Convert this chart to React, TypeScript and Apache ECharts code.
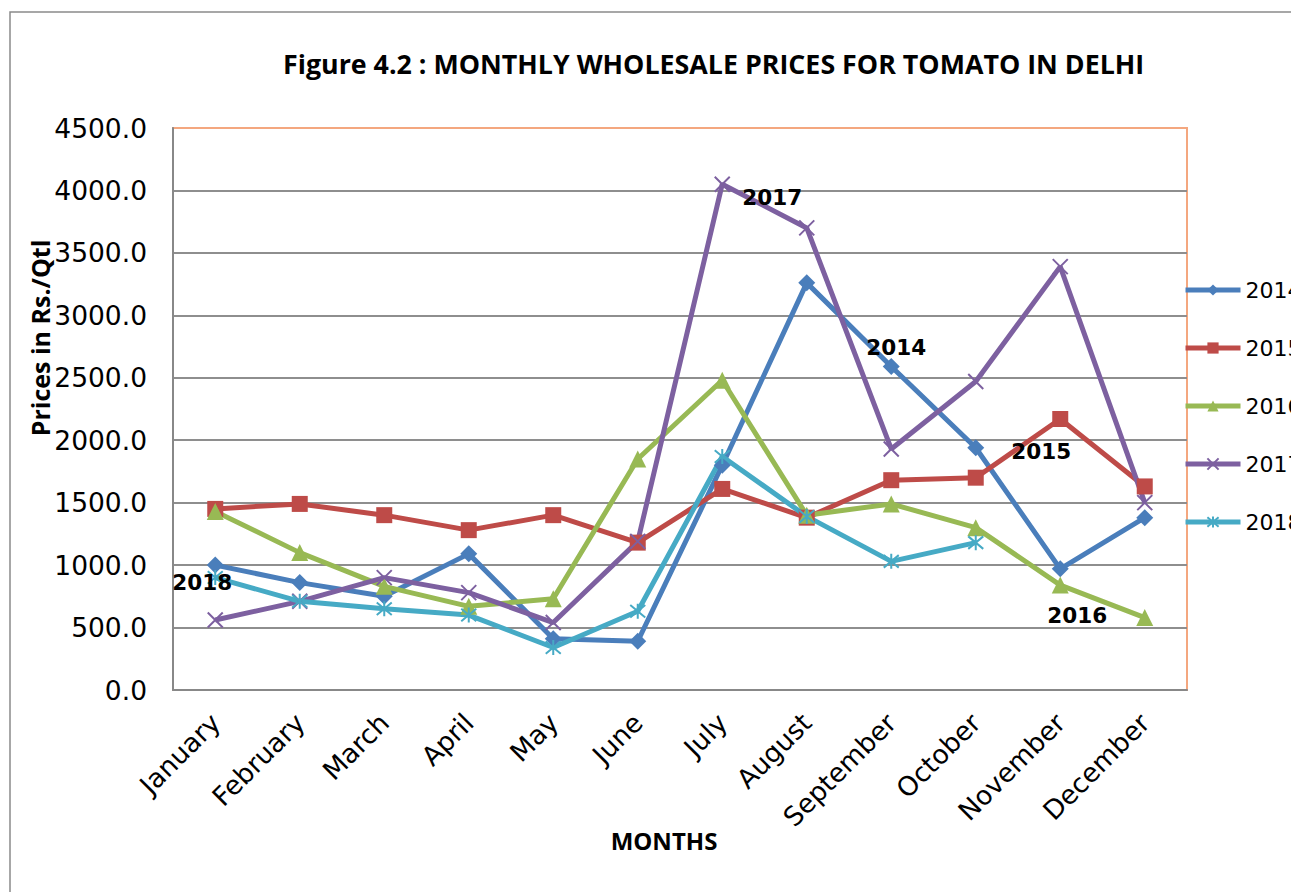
import React, { useEffect, useRef } from "react";
import * as echarts from "echarts";

const months = ["January", "February", "March", "April", "May", "June", "July", "August", "September", "October", "November", "December"];
const s2014 = [1000, 860, 750, 1090, 410, 390, 1800, 3260, 2590, 1940, 970, 1380];
const s2015 = [1450, 1490, 1400, 1280, 1400, 1180, 1610, 1380, 1680, 1700, 2170, 1630];
const s2016 = [1430, 1100, 830, 670, 730, 1850, 2480, 1400, 1490, 1300, 840, 580];
const s2017 = [560, 710, 900, 780, 540, 1190, 4050, 3700, 1930, 2470, 3390, 1500];
const s2018: (number | null)[] = [900, 710, 650, 600, 340, 630, 1870, 1390, 1030, 1180, null, null];
const yTicks = { min: 0, max: 4500, interval: 500 };

const X_PATH = "path://M0,0 L10,10 M10,0 L0,10";
const STAR_PATH = "path://M0,0 L10,10 M10,0 L0,10 M5,-1 L5,11";

export default function App() {
  const ref = useRef<HTMLDivElement>(null);
  useEffect(() => {
    if (!ref.current) return;
    const chart = echarts.init(ref.current, undefined, { renderer: "svg" });
    const lblStyle = { fontFamily: "DejaVu Sans", fontWeight: "bold" as const, fontSize: 21.5, color: "#000" };
    const withLabel = (arr: (number | null)[], idx: number, text: string, offset: number[]) =>
      arr.map((v, i) =>
        i === idx
          ? { value: v, label: { show: true, position: "inside", offset, formatter: text, ...lblStyle } }
          : v
      );
    const mk = (name: string, color: string, data: any[], symbol: string, size: number, stroke: boolean) => ({
      name,
      type: "line",
      data,
      symbol,
      symbolSize: size,
      showAllSymbol: true,
      lineStyle: { color, width: 5 },
      itemStyle: stroke ? { color, borderColor: color, borderWidth: 2 } : { color, borderWidth: 0 },
      label: { show: false },
      connectNulls: false,
    });
    chart.setOption({
      animation: false,
      backgroundColor: "#fff",
      title: {
        text: "Figure 4.2 : MONTHLY WHOLESALE PRICES FOR TOMATO IN DELHI",
        left: 278,
        top: 45,
        textStyle: { fontFamily: "Open Sans", fontWeight: "bold", fontSize: 26.8, color: "#000" },
      },
      legend: {
        orient: "vertical",
        left: 1178,
        top: 274,
        itemWidth: 55,
        itemHeight: 14,
        itemGap: 36,
        lineStyle: { width: 5 },
        textStyle: { fontFamily: "DejaVu Sans", fontSize: 22, color: "#000" },
        data: ["2014", "2015", "2016", "2017", "2018"],
      },
      grid: { left: 173, top: 128, right: 104, bottom: 202, show: true, borderColor: "#F4A77F", borderWidth: 2, backgroundColor: "transparent" },
      xAxis: {
        type: "category",
        data: months,
        boundaryGap: true,
        axisLine: { lineStyle: { color: "#888", width: 2 } },
        axisTick: { show: false },
        axisLabel: { rotate: 45, fontFamily: "DejaVu Sans", fontSize: 26.5, color: "#000", margin: 28, interval: 0 },
      },
      yAxis: {
        type: "value",
        ...yTicks,
        axisLine: { show: true, lineStyle: { color: "#888", width: 2 } },
        axisTick: { show: false },
        splitLine: { show: true, showMaxLine: false, lineStyle: { color: "#8e8e8e", width: 2 } },
        axisLabel: { fontFamily: "DejaVu Sans", fontSize: 26.5, color: "#000", margin: 26, formatter: (v: number) => v.toFixed(1) },
      },
      graphic: [
        { type: "rect", shape: { x: 10, y: 12, width: 1400, height: 1000 }, style: { fill: "none", stroke: "#8a8a8a", lineWidth: 1.5 }, z: -10 },
        {
          type: "text",
          x: 40,
          y: 338,
          rotation: Math.PI / 2,
          style: { text: "Prices in Rs./Qtl", fontFamily: "Open Sans", fontWeight: "bold", fontSize: 25, fill: "#000", align: "center", verticalAlign: "middle" },
        },
        {
          type: "text",
          x: 664,
          y: 840,
          style: { text: "MONTHS", fontFamily: "Open Sans", fontWeight: "bold", fontSize: 24, fill: "#000", align: "center", verticalAlign: "middle" },
        },
      ],
      series: [
        mk("2014", "#4A7EBB", withLabel(s2014, 8, "2014", [5, -19]), "diamond", 17, false),
        mk("2015", "#BE4B48", withLabel(s2015, 10, "2015", [-19, 33]), "rect", 16, false),
        mk("2016", "#98B954", withLabel(s2016, 10, "2016", [17, 30]), "triangle", 17, false),
        mk("2017", "#7D60A0", withLabel(s2017, 6, "2017", [50, 13]), X_PATH, 15, true),
        mk("2018", "#46AAC5", withLabel(s2018, 0, "2018", [-13, 5]), STAR_PATH, 15, true),
      ],
    });
    return () => chart.dispose();
  }, []);
  return <div ref={ref} style={{ position: "fixed", left: 0, top: 0, width: 1291, height: 892 }} />;
}
